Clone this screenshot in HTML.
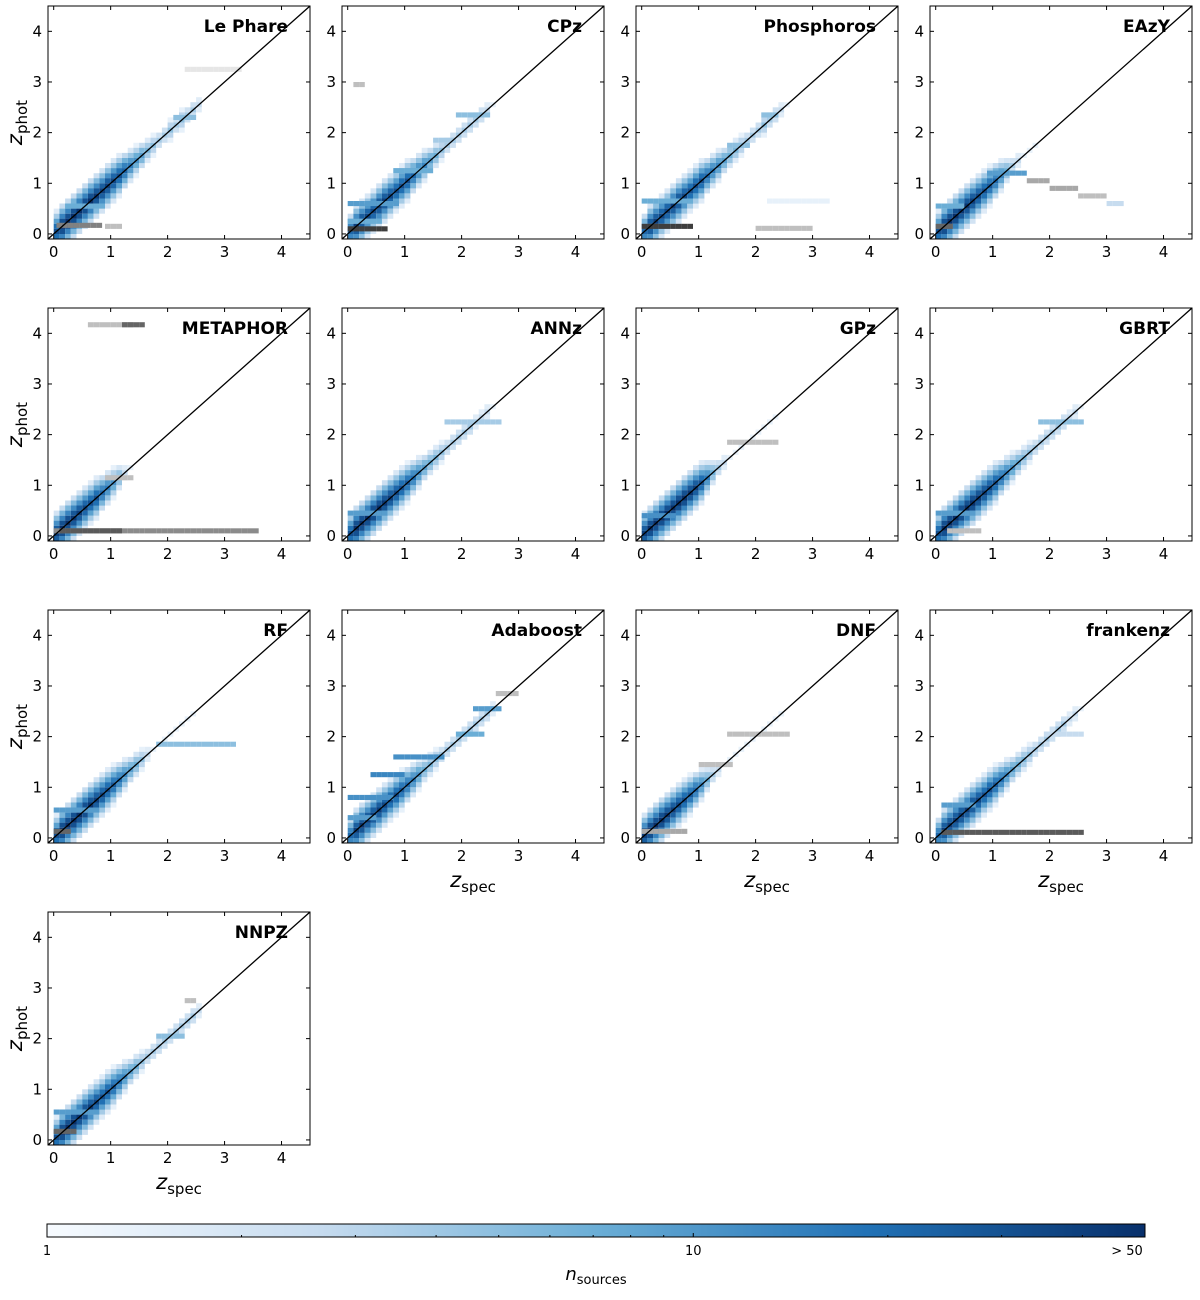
<!DOCTYPE html>
<html><head><meta charset="utf-8"><style>
body{margin:0;background:#fff;}
svg text{font-family:"DejaVu Sans","Liberation Sans",sans-serif;}
</style></head><body>
<svg id="fig" width="1200" height="1295" viewBox="0 0 1200 1295" xmlns="http://www.w3.org/2000/svg">
<defs id="defs"><linearGradient id="cmap" x1="0" x2="1" y1="0" y2="0">
<stop offset="0" stop-color="#f7fbff"/><stop offset="0.25" stop-color="#c6dbef"/><stop offset="0.5" stop-color="#6baed6"/><stop offset="0.75" stop-color="#2171b5"/><stop offset="1" stop-color="#08306b"/></linearGradient></defs>
</svg>
<script>
// ---- data ----
const names=["Le Phare","CPz","Phosphoros","EAzY","METAPHOR","ANNz","GPz","GBRT","RF","Adaboost","DNF","frankenz","NNPZ"];
const diagZ=[0,0.1,0.2,0.3,0.4,0.5,0.6,0.7,0.8,0.9,1.0,1.1,1.2,1.3,1.4,1.5,1.6,1.7,1.8,1.9,2.0,2.1,2.2,2.3,2.4,2.5];
const diagLePhare=[30,50,50,50,50,50,50,45,40,40,35,30,22,14,10,8,5,4,3,3,4,3,4,3,3,2];
const diagCPz=[20,40,40,35,35,40,40,35,30,30,30,20,15,12,8,6,4,3,3,3,3,3,3,3,2,1];
const diagPhos=[20,40,40,35,35,40,40,35,30,30,30,20,15,12,8,6,5,4,3,3,3,4,3,3,2,1];
const diagEAzY=[30,50,50,50,45,45,40,35,30,25,20,12,6,3,2,1,1,1,0,0,0,0,0,0,0,0];
const diagMeta=[40,50,50,45,40,35,30,30,20,15,10,6,2,1,0,0,0,0,0,0,0,0,0,0,0,0];
const diagANNz=[30,50,50,50,50,50,45,40,35,30,25,18,12,8,6,5,4,3,3,3,3,3,2,2,2,1];
const diagGPz=[40,50,50,50,50,50,50,50,45,40,30,15,6,3,2,1,1,1,1,1,1,1,1,1,0,0];
const diagGBRT=[30,50,50,50,50,50,50,45,40,35,30,20,14,10,7,5,4,3,3,3,3,3,3,2,2,1];
const diagRF=[30,50,50,50,50,50,45,40,35,30,25,18,12,8,6,4,2,1,1,1,1,1,1,1,1,0];
const diagAda=[20,40,45,40,40,40,35,30,30,25,20,14,10,6,5,4,3,3,3,3,3,3,3,3,3,2];
const diagDNF=[40,50,50,50,45,40,35,30,25,20,12,6,3,2,1,1,1,1,1,1,1,1,1,1,1,0];
const diagFrank=[20,40,40,40,40,40,40,35,30,30,25,18,12,8,6,5,4,3,3,3,3,3,3,2,2,1];
const diagNNPZ=[30,50,50,50,45,45,40,35,30,30,25,18,12,8,6,4,3,3,3,3,3,3,3,3,3,2];
const diags=[diagLePhare,diagCPz,diagPhos,diagEAzY,diagMeta,diagANNz,diagGPz,diagGBRT,diagRF,diagAda,diagDNF,diagFrank,diagNNPZ];
// streaks: [zspec start, zspec end, zphot, count, gray(1)/blue(0)]
const streaksLePhare=[[0.05,0.8,0.12,6,1],[0.9,1.2,0.1,2,1],[2.3,3.3,3.2,1,1],[0.2,0.9,0.5,6,0],[2.1,2.5,2.25,4,0]];
const streaksCPz=[[0,0.7,0.05,20,1],[0.1,0.3,2.9,2,1],[0,0.9,0.55,8,0],[0,0.6,0.2,6,0],[0.8,1.5,1.2,6,0],[1.9,2.5,2.3,4,0],[1.5,1.9,1.8,3,0]];
const streaksPhos=[[0,0.9,0.1,20,1],[2.0,3.0,0.06,2,1],[0,0.9,0.6,6,0],[1.5,1.9,1.7,4,0],[2.1,2.4,2.3,4,0],[2.2,3.3,0.6,1,0]];
const streaksEAzY=[[0.9,1.6,1.15,8,0],[1.6,2.0,1.0,3,1],[2.0,2.5,0.85,3,1],[2.5,3.0,0.7,2,1],[3.0,3.3,0.55,2,0],[0,0.3,0.1,10,1],[0,0.5,0.5,6,0]];
const streaksMeta=[[0,3.6,0.05,5,1],[0.1,1.2,0.05,12,1],[0.6,1.4,4.12,2,1],[1.2,1.6,4.12,10,1],[0.9,1.4,1.1,2,1]];
const streaksANNz=[[1.7,2.7,2.2,3,0],[0,0.7,0.4,8,0]];
const streaksGPz=[[1.5,2.4,1.8,2,1],[0,0.6,0.35,10,0]];
const streaksGBRT=[[1.8,2.6,2.2,4,0],[0,0.7,0.4,8,0],[0.2,0.8,0.05,2,1]];
const streaksRF=[[1.8,3.2,1.8,4,0],[0,0.8,0.5,8,0],[0,0.3,0.08,10,1]];
const streaksAda=[[0,0.8,0.75,10,0],[0.4,1.0,1.2,12,0],[0.8,1.7,1.55,10,0],[0,0.5,0.35,8,0],[1.9,2.4,2.0,6,0],[2.2,2.7,2.5,8,0],[2.6,3.0,2.8,2,1]];
const streaksDNF=[[1.0,1.6,1.4,2,1],[1.5,2.6,2.0,2,1],[0,0.8,0.08,3,1]];
const streaksFrank=[[0.1,2.6,0.06,12,1],[0.1,0.7,0.6,8,0],[1.9,2.6,2.0,2,0]];
const streaksNNPZ=[[0,0.4,0.12,10,1],[0,0.8,0.5,8,0],[1.8,2.3,2.0,4,0],[2.3,2.5,2.7,2,1]];
const streaks=[streaksLePhare,streaksCPz,streaksPhos,streaksEAzY,streaksMeta,streaksANNz,streaksGPz,streaksGBRT,streaksRF,streaksAda,streaksDNF,streaksFrank,streaksNNPZ];
const ticks=[0,1,2,3,4];
const cbTicks=[1,10,50];
const cbLabels=["1","10","> 50"];
// ---- drawing ----
const NS="http://www.w3.org/2000/svg";
const svg=document.getElementById('fig');
const defs=document.getElementById('defs');
function mk(tag,attrs,parent){const e=document.createElementNS(NS,tag);for(const k in attrs)e.setAttribute(k,attrs[k]);(parent||svg).appendChild(e);return e;}
const stops=[[0,[247,251,255]],[0.25,[198,219,239]],[0.5,[107,174,214]],[0.75,[33,113,181]],[1,[8,48,107]]];
function blue(n){let t=Math.min(1,Math.log(Math.max(n,1))/Math.log(50));t=0.08+0.92*t;
 for(let i=1;i<stops.length;i++){if(t<=stops[i][0]){const a=stops[i-1],b=stops[i],f=(t-a[0])/(b[0]-a[0]);return 'rgb('+a[1].map((v,j)=>Math.round(v+(b[1][j]-v)*f)).join(',')+')';}}return 'rgb(8,48,107)';}
function gray(n){let t=Math.min(1,Math.log(Math.max(n,1))/Math.log(50));const v=Math.round(230-220*t);return 'rgb('+v+','+v+','+v+')';}
const colX=[48,342,636,930],rowY=[6,308,610,912],PW=262,PH=233,lo=-0.1,hi=4.5,bin=0.1;
names.forEach((nm,i)=>{
 const px=colX[i%4],py=rowY[Math.floor(i/4)];
 const sx=z=>px+(z-lo)/(hi-lo)*PW, sy=z=>py+PH-(z-lo)/(hi-lo)*PH;
 const cp=mk('clipPath',{id:'clip'+i},defs);
 mk('rect',{x:px,y:py,width:PW,height:PH},cp);
 const g=mk('g',{});
 
 
 const hg=mk('g',{'clip-path':'url(#clip'+i+')'},g);
 const cw=sx(bin)-sx(0), ch=sy(0)-sy(bin);
 const cell=(zs,zp,n,isGray)=>{if(n<1)return;const r=mk('rect',{x:sx(zs).toFixed(1),y:(sy(zp)-ch).toFixed(1),width:cw.toFixed(1),height:ch.toFixed(1),fill:isGray?gray(n):blue(n)},hg);
  
  };
 const d=diags[i];
 diagZ.forEach((z,k)=>{const n=d[k];
  cell(z,z-0.4,n/25,0);cell(z,z+0.4,n/25,0);
  cell(z,z-0.3,n/10,0);cell(z,z+0.3,n/10,0);cell(z,z-0.2,n/4,0);cell(z,z+0.2,n/4,0);cell(z,z-0.1,n/1.7,0);cell(z,z+0.1,n/1.7,0);cell(z,z,n,0);});
 streaks[i].forEach(s=>{for(let z=s[0];z<s[1]-1e-6;z+=bin)cell(z,s[2],s[3],s[4]);});
 const f=mk('rect',{x:px,y:py,width:PW,height:PH,fill:'none',stroke:'#000','stroke-width':1},g);
 
 const l=mk('line',{x1:sx(lo),y1:sy(lo),x2:sx(hi),y2:sy(hi),stroke:'#000','stroke-width':1.3},g);
 
 ticks.forEach(t=>{
  mk('line',{x1:sx(t),x2:sx(t),y1:py+PH,y2:py+PH-4,stroke:'#000'},g);
  mk('line',{x1:sx(t),x2:sx(t),y1:py,y2:py+4,stroke:'#000'},g);
  mk('line',{x1:px,x2:px+4,y1:sy(t),y2:sy(t),stroke:'#000'},g);
  mk('line',{x1:px+PW,x2:px+PW-4,y1:sy(t),y2:sy(t),stroke:'#000'},g);
  const tx=mk('text',{x:sx(t),y:py+PH+18,'text-anchor':'middle','font-size':15},g);tx.textContent=t;
  
  const ty=mk('text',{x:px-6,y:sy(t)+5,'text-anchor':'end','font-size':15},g);ty.textContent=t;
  
 });
 const tt=mk('text',{x:px+PW-22,y:py+26,'text-anchor':'end','font-size':17,'font-weight':'bold'},g);tt.textContent=nm;
 
 if(i%4===0){const yl=mk('text',{transform:'translate(22,'+(py+PH/2)+') rotate(-90)','text-anchor':'middle','font-size':21},g);
  yl.innerHTML='<tspan font-style="italic">z</tspan><tspan font-size="15" dy="5">phot</tspan>';
  }
 if(i>=9){const xl=mk('text',{x:px+PW/2,y:py+PH+44,'text-anchor':'middle','font-size':21},g);
  xl.innerHTML='<tspan font-style="italic">z</tspan><tspan font-size="15" dy="5">spec</tspan>';
  }
});
// colorbar
const cbx0=47,cbx1=1145,cby=1224,cbh=13;
const cb=mk('rect',{x:cbx0,y:cby,width:cbx1-cbx0,height:cbh,fill:'url(#cmap)',stroke:'#000','stroke-width':1});

const cbs=v=>cbx0+Math.log(v)/Math.log(50)*(cbx1-cbx0);
cbTicks.forEach((v,k)=>{mk('line',{x1:cbs(v),x2:cbs(v),y1:cby+cbh,y2:cby+cbh-4,stroke:'#000'});
 const t=mk('text',{x:cbs(v)-(k===2?18:0),y:cby+cbh+18,'text-anchor':'middle','font-size':13});t.textContent=cbLabels[k];
 });
[2,3,4,5,6,7,8,9,20,30,40].forEach(v=>mk('line',{x1:cbs(v),x2:cbs(v),y1:cby+cbh,y2:cby+cbh-2,stroke:'#000'}));
const cl=mk('text',{x:596,y:1280,'text-anchor':'middle','font-size':18});
cl.innerHTML='<tspan font-style="italic">n</tspan><tspan font-size="13" dy="4">sources</tspan>';

</script>
</body></html>
